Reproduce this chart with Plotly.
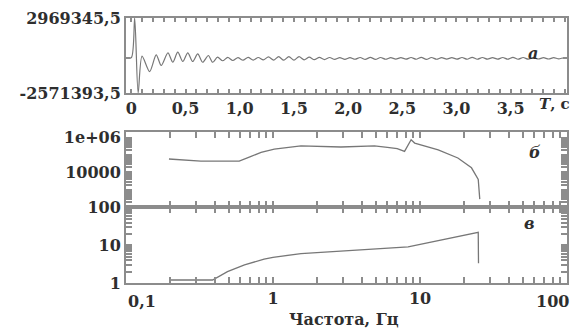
import plotly.graph_objects as go

# ---- panel a: time signal ----
t_a = [-0.045, 0.0, 0.03, 0.062, 0.098, 0.168, 0.229, 0.275, 0.337, 0.382, 0.428, 0.474,
       0.52, 0.566, 0.612, 0.658, 0.71, 0.75, 0.795,
       0.842, 0.889, 0.936, 0.983, 1.030, 1.077, 1.124, 1.171, 1.218, 1.265, 1.312, 1.359,
       1.406, 1.453, 1.500, 1.547, 1.594, 1.641, 1.688, 1.735, 1.782, 1.829, 1.876, 1.923,
       1.970, 2.017, 2.064, 2.111, 2.158, 2.205, 2.252, 2.299, 2.346, 2.393, 2.440, 2.487,
       2.534, 2.581, 2.628, 2.675, 2.722, 2.769, 2.816, 2.863, 2.910, 2.957, 3.004, 3.051,
       3.098, 3.145, 3.192, 3.239, 3.286, 3.333, 3.380, 3.427, 3.474, 3.521, 3.568, 3.615,
       3.662, 3.709, 3.756, 3.803, 3.850, 3.897, 3.944, 3.991, 4.02]
y_a = [0, 50000, 2969345.5, -2571393.5, 150000, -990000, 245000, -540000, 390000, -300000,
       445000, -245000, 390000, -245000, 320000, -300000, 200000, -300000, 74000,
       -190000, 60000, -170000, 40000, -150000, 60000, -140000, 50000, -120000, 90000,
       -140000, 110000, -150000, 120000, -140000, 110000, -120000, 80000, -110000, 60000,
       -100000, 50000, -90000, 40000, -90000, 40000, -80000, 50000, -90000, 60000, -90000,
       50000, -80000, 40000, -70000, 40000, -70000, 50000, -80000, 60000, -90000, 50000,
       -80000, 40000, -70000, 40000, -70000, 50000, -80000, 60000, -80000, 50000, -70000,
       40000, -70000, 50000, -80000, 60000, -80000, 50000, -70000, 40000, -60000, 40000,
       -60000, 40000, -50000, 30000, -20000]
y_a_min = -2571393.5
y_a_max = 2969345.5

# ---- panel б: spectrum ----
f_b = [0.196, 0.25, 0.323, 0.45, 0.589, 0.71, 0.83, 1.02, 1.55, 2.9, 4.9, 6.0, 7.0, 7.85,
       8.7, 9.2, 13.3, 18.1, 22.4, 24.9, 25.5]
p_b = [60000, 52000, 45000, 45000, 45000, 85000, 145000, 224000, 347000, 295000, 347000,
       282000, 240000, 166000, 776000, 500000, 204000, 69000, 18600, 4000, 290]

# ---- panel в ----
f_c = [0.2, 0.388, 0.49, 0.64, 0.87, 1.0, 1.55, 2.6, 4.4, 8.3, 24.9, 25.0]
v_c = [1.2, 1.2, 2.0, 3.0, 4.3, 4.8, 6.0, 6.8, 7.6, 9.0, 22.0, 3.35]

time_ticks = [round(i * 0.1, 1) for i in range(0, 41)]
time_labels = {0.0: "0", 0.5: "0,5", 1.0: "1,0", 1.5: "1,5", 2.0: "2,0", 2.5: "2,5",
               3.0: "3,0", 3.5: "3,5"}
log_ticks_x = [m * 10.0 ** k for k in (-1, 0, 1) for m in range(1, 10)] + [100.0]
log_ticks_b = [m * 10.0 ** k for k in (2, 3, 4, 5) for m in range(1, 10)] + [1e6]
log_ticks_c = [m * 10.0 ** k for k in (0, 1) for m in range(1, 10)] + [100.0]

LINE = "#777777"
FRAME = "#8c8c8c"
TXT = "#2e2e2e"
FONT = "DejaVu Serif"
tickfont = dict(family=FONT, size=16, color=TXT, weight="bold")

fig = go.Figure()
fig.add_trace(go.Scatter(x=t_a, y=y_a, mode="lines",
                         line=dict(color=LINE, width=1.2, shape="spline", smoothing=0.8),
                         xaxis="x", yaxis="y", showlegend=False))
fig.add_trace(go.Scatter(x=f_b, y=p_b, mode="lines", line=dict(color=LINE, width=1.3),
                         xaxis="x2", yaxis="y2", showlegend=False))
fig.add_trace(go.Scatter(x=f_c, y=v_c, mode="lines", line=dict(color=LINE, width=1.3),
                         xaxis="x3", yaxis="y3", showlegend=False))

common = dict(showline=True, linecolor=FRAME, linewidth=2, mirror="ticks", ticks="inside",
              tickcolor=FRAME, tickwidth=1.5, showgrid=False, zeroline=False,
              tickfont=tickfont, automargin=False)

# page body adds an 8px offset, so the figure is 8px smaller and margins shifted
fig.update_layout(
    width=570, height=322,
    margin=dict(l=118, r=11, t=10, b=47),
    paper_bgcolor="white", plot_bgcolor="white",
    xaxis=dict(domain=[0, 1], anchor="y", range=[-0.05, 4.02], tickvals=time_ticks,
               ticktext=[time_labels.get(v, "") for v in time_ticks], ticklen=4, **common),
    yaxis=dict(domain=[0.717, 1], anchor="x", range=[y_a_min, y_a_max],
               tickvals=[y_a_min, 0, y_a_max], ticktext=["-2571393,5", "", "2969345,5"],
               ticklen=4, **common),
    xaxis2=dict(domain=[0, 1], anchor="y2", type="log", range=[-1, 2], tickvals=log_ticks_x,
                ticktext=["" for _ in log_ticks_x], ticklen=6, **common),
    yaxis2=dict(domain=[0.285, 0.570], anchor="x2", type="log", range=[1.98, 6.34],
                tickvals=log_ticks_b,
                ticktext=[{100.0: "100", 10000.0: "10000", 1e6: "1e+06"}.get(v, "") for v in log_ticks_b],
                ticklen=6, **common),
    xaxis3=dict(domain=[0, 1], anchor="y3", type="log", range=[-1, 2], tickvals=log_ticks_x,
                ticktext=[{1.0: "1", 10.0: "10"}.get(v, "") for v in log_ticks_x],
                ticklen=6, **common),
    yaxis3=dict(domain=[0, 0.285], anchor="x3", type="log", range=[0, 2.0],
                tickvals=log_ticks_c,
                ticktext=[{1.0: "1", 10.0: "10"}.get(v, "") for v in log_ticks_c],
                ticklen=6, **common),
)

ann_font = dict(family=FONT, size=16, color=TXT, weight="bold")
fig.add_annotation(text="0,1", xref="paper", yref="paper", x=0.0, y=-0.068,
                   xanchor="left", yanchor="middle", showarrow=False, font=tickfont)
fig.add_annotation(text="100", xref="paper", yref="paper", x=1.008, y=-0.068,
                   xanchor="right", yanchor="middle", showarrow=False, font=tickfont)
fig.add_annotation(text="Частота, Гц", xref="paper", yref="paper", x=0.495, y=-0.137,
                   xanchor="center", yanchor="middle", showarrow=False, font=ann_font)
fig.add_annotation(text="<i>T</i>, с", xref="paper", yref="paper", x=1.012, y=0.675,
                   xanchor="right", yanchor="middle", showarrow=False,
                   font=dict(family=FONT, size=15, color=TXT, weight="bold"))
letter_font = dict(family=FONT, size=16, color=TXT, weight="bold", style="italic")
fig.add_annotation(text="а", xref="paper", yref="paper", x=0.939, y=0.909,
                   showarrow=False, font=letter_font)
fig.add_annotation(text="б", xref="paper", yref="paper", x=0.946, y=0.491,
                   showarrow=False, font=letter_font)
fig.add_annotation(text="в", xref="paper", yref="paper", x=0.932, y=0.181,
                   showarrow=False, font=letter_font)

fig.write_html("out.html")
